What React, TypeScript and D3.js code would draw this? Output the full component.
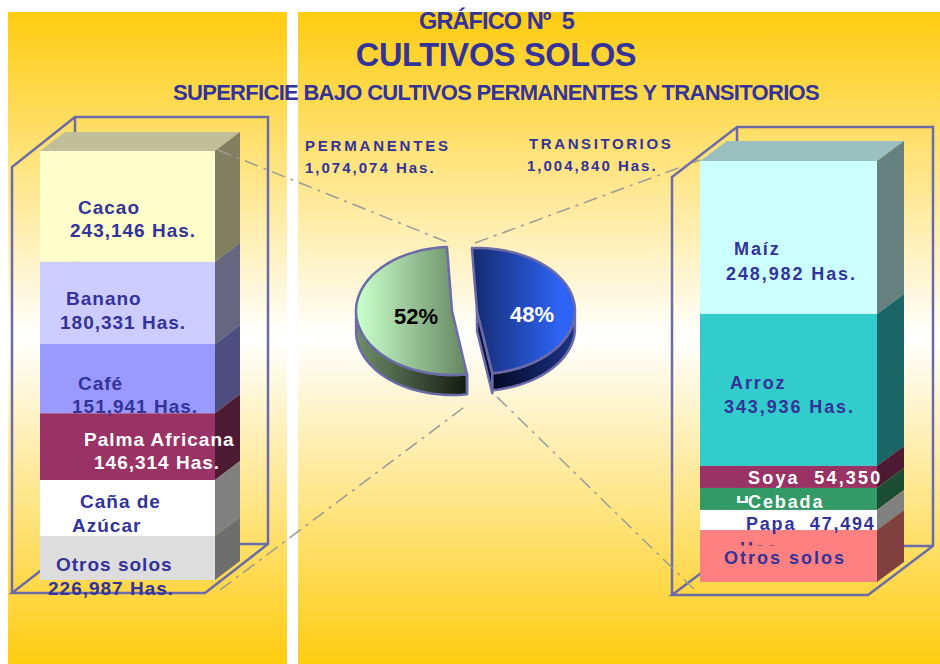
import React from "react";
import * as d3 from "d3";

const permCategories = ["Cacao", "Banano", "Café", "Palma Africana", "Caña de Azúcar", "Otros solos"];
const permBarValues = [243146, 180331, 151941, 146314, 122800, 96500];
const permFront = ["#ffffcc", "#ccccff", "#9999ff", "#993366", "#ffffff", "#dddddd"];
const permSide = ["#808060", "#666680", "#4d4d80", "#4d1a33", "#808080", "#6e6e6e"];

const tranCategories = ["Maíz", "Arroz", "Soya", "Cebada", "Papa", "Otros solos"];
const tranBarValues = [346000, 343936, 49800, 49800, 45300, 117700];
const tranFront = ["#ccffff", "#33cccc", "#993366", "#339966", "#ffffff", "#ff8080"];
const tranSide = ["#668080", "#1a6666", "#4d1a33", "#1a4d33", "#808080", "#804040"];

const pieValues = [1004840, 1074074];
const piePercent = ["48%", "52%"];

type Lab = { lines: { t: string; x: number; y: number }[]; color: string; spacing?: number };
const permLabels: Lab[] = [
  { lines: [{ t: "Cacao", x: 78, y: 214 }, { t: "243,146 Has.", x: 70, y: 237 }], color: "#333399" },
  { lines: [{ t: "Banano", x: 66, y: 305 }, { t: "180,331 Has.", x: 60, y: 329 }], color: "#333399" },
  { lines: [{ t: "Café", x: 78, y: 390 }, { t: "151,941 Has.", x: 72, y: 413 }], color: "#333399" },
  { lines: [{ t: "Palma Africana", x: 84, y: 446 }, { t: "146,314 Has.", x: 94, y: 469 }], color: "#ffffff" },
  { lines: [{ t: "Caña de", x: 80, y: 508 }, { t: "Azúcar", x: 72, y: 532 }], color: "#333399" },
  { lines: [{ t: "Otros solos", x: 56, y: 571 }, { t: "226,987 Has.", x: 48, y: 595 }], color: "#333399" },
];
const tranLabels: Lab[] = [
  { lines: [{ t: "Maíz", x: 734, y: 255 }, { t: "248,982 Has.", x: 726, y: 280 }], color: "#333399", spacing: 1.9 },
  { lines: [{ t: "Arroz", x: 730, y: 389 }, { t: "343,936 Has.", x: 724, y: 413 }], color: "#333399", spacing: 1.9 },
  { lines: [{ t: "Soya  54,350", x: 748, y: 484 }], color: "#ffffff", spacing: 2.2 },
  { lines: [{ t: "Cebada", x: 748, y: 508 }], color: "#ffffff", spacing: 1.9 },
  { lines: [{ t: "Papa  47,494", x: 746, y: 530 }], color: "#333399", spacing: 1.8 },
  { lines: [{ t: "Otros solos", x: 724, y: 564 }], color: "#333399", spacing: 2 },
];

const FONT = "'Liberation Sans', Arial, sans-serif";
const INK = "#333399";
const WIRE = "#6b6ba8";
const LEADER = "#9a9a9a";

function Stack({ values, front, side, x0, x1, yBottom, yTop, dx, dy }: any) {
  const scale = d3.scaleLinear().domain([0, d3.sum(values) as number]).range([yBottom, yTop]);
  const xs = d3.scaleLinear().domain([0, 1]).range([x0, x1]);
  let cum = d3.sum(values) as number;
  const rows = values.map((v: number, i: number) => {
    const top = scale(cum);
    cum -= v;
    return { top, bot: scale(cum), i };
  });
  const yt = scale(d3.sum(values) as number);
  const topColor = front === permFront ? "#bfbf99" : "#99bfbf";
  const line = d3.line();
  return (
    <g>
      <path d={line([[xs(0), yt], [xs(0) + dx, yt - dy], [xs(1) + dx, yt - dy], [xs(1), yt]] as any)! + "Z"} fill={topColor} />
      {rows.map((r: any) => (
        <g key={r.i}>
          <rect x={xs(0)} y={r.top} width={xs(1) - xs(0)} height={r.bot - r.top} fill={front[r.i]} />
          <path d={line([[xs(1), r.top], [xs(1) + dx, r.top - dy], [xs(1) + dx, r.bot - dy], [xs(1), r.bot]] as any)! + "Z"} fill={side[r.i]} />
        </g>
      ))}
    </g>
  );
}

function Wire({ x0, xf, xb, yTopF, yTopB, yBotF, yBotB }: any) {
  const line = d3.line();
  const xBack = x0 + (xb - xf);
  const pts = [
    [[x0, yBotF], [x0, yTopF], [xBack, yTopB], [xb, yTopB], [xb, yBotB], [xf, yBotF], [x0, yBotF], [xBack, yBotB], [xb, yBotB]],
    [[xBack, yTopB], [xBack, yBotB]],
  ];
  return <>{pts.map((p, i) => <path key={i} d={line(p as any)!} fill="none" stroke={WIRE} strokeWidth={2.5} />)}</>;
}

function ellipseArc(cx: number, cy: number, rx: number, ry: number, a0: number, a1: number) {
  const n = 60;
  return d3.range(n + 1).map((i) => {
    const a = a0 + ((a1 - a0) * i) / n;
    return [cx + rx * Math.sin(a), cy - ry * Math.cos(a)] as [number, number];
  });
}

function Pie3D() {
  const tilt = (-3 * Math.PI) / 180;
  const arcs = d3.pie<number>().sort(null).startAngle(tilt).endAngle(tilt + 2 * Math.PI)(pieValues);
  const line = d3.line();
  const depth = 20;
  const R = { cx: 477, cy: 311, rx: 98, ry: 63 };
  const L = { cx: 452, cy: 311, rx: 96, ry: 64 };
  const a = arcs[0];
  const b = arcs[1];
  const rTop = ellipseArc(R.cx, R.cy, R.rx, R.ry, a.startAngle, a.endAngle);
  const lTop = ellipseArc(L.cx, L.cy, L.rx, L.ry, b.startAngle, b.endAngle);
  const rBottomPt = rTop[rTop.length - 1];
  const lBottomPt = lTop[0];
  const rWallRim = rTop.filter((p, i) => a.startAngle + ((a.endAngle - a.startAngle) * i) / 60 >= Math.PI / 2);
  const lWallRim = lTop.filter((p, i) => b.startAngle + ((b.endAngle - b.startAngle) * i) / 60 <= (3 * Math.PI) / 2);
  const wall = (rim: [number, number][], d: number) =>
    line([...rim, ...rim.slice().reverse().map((p) => [p[0], p[1] + d] as [number, number])])! + "Z";
  const slice = (c: any, rim: [number, number][]) => line([[c.cx, c.cy], ...rim])! + "Z";
  return (
    <g stroke={WIRE} strokeWidth={2.5} strokeLinejoin="round">
      <path d={wall(lWallRim, depth)} fill="url(#lSide)" />
      <path d={slice(L, lTop)} fill="url(#lTop)" />
      <path
        d={line([[R.cx, R.cy], [R.cx, R.cy + depth], [rBottomPt[0], rBottomPt[1] + depth], rBottomPt])! + "Z"}
        fill="#0a1440"
      />
      <path d={wall(rWallRim, depth - 3)} fill="url(#rSide)" />
      <path d={slice(R, rTop)} fill="url(#rTop)" />
      <path d={line([[lBottomPt[0], lBottomPt[1]], [lBottomPt[0], lBottomPt[1] + depth]])!} fill="none" />
      <text x={416} y={324} fontFamily={FONT} fontWeight={700} fontSize={22} fill="#000" stroke="none" textAnchor="middle">{piePercent[1]}</text>
      <text x={532} y={322} fontFamily={FONT} fontWeight={700} fontSize={22} fill="#fff" stroke="none" textAnchor="middle">{piePercent[0]}</text>
    </g>
  );
}

function Labels({ items, size }: { items: Lab[]; size: number }) {
  return (
    <g fontFamily={FONT} fontWeight={700} fontSize={size}>
      {items.map((l, i) =>
        l.lines.map((s, j) => (
          <text key={`${i}-${j}`} x={s.x} y={s.y} fill={l.color} letterSpacing={l.spacing ?? 1} style={{ whiteSpace: "pre" }}>
            {s.t}
          </text>
        ))
      )}
    </g>
  );
}

export default function App() {
  const dash = "14 6 3 6";
  const leaders = [
    [[218, 150], [447, 242]],
    [[220, 590], [467, 405]],
    [[475, 243], [700, 160]],
    [[497, 397], [698, 593]],
  ];
  const line = d3.line();
  return (
    <svg width={940} height={664} style={{ position: "absolute", left: 0, top: 0, background: "#fff" }}>
      <defs>
        <linearGradient id="bg" x1="0" y1="0" x2="0" y2="1">
          <stop offset="0" stopColor="#ffcc10" />
          <stop offset="0.5" stopColor="#ffffff" />
          <stop offset="1" stopColor="#ffcc10" />
        </linearGradient>
        <linearGradient id="lTop" x1="0" y1="0" x2="1" y2="0">
          <stop offset="0.05" stopColor="#c6fcc8" />
          <stop offset="1" stopColor="#65855f" />
        </linearGradient>
        <linearGradient id="lSide" x1="0" y1="0" x2="1" y2="0">
          <stop offset="0" stopColor="#6f8f6b" />
          <stop offset="1" stopColor="#141a10" />
        </linearGradient>
        <linearGradient id="rTop" x1="0" y1="0" x2="1" y2="0">
          <stop offset="0" stopColor="#142a6e" />
          <stop offset="0.85" stopColor="#2e63f5" />
        </linearGradient>
        <linearGradient id="rSide" x1="0" y1="0" x2="1" y2="0">
          <stop offset="0" stopColor="#030a25" />
          <stop offset="1" stopColor="#1c3388" />
        </linearGradient>
        <clipPath id="clipHas"><rect x={730} y={540} width={60} height={5.5} /></clipPath>
        <clipPath id="clipH"><rect x={730} y={494} width={30} height={9} /></clipPath>
      </defs>
      <rect x={8} y={12} width={279} height={652} fill="url(#bg)" />
      <rect x={298} y={12} width={642} height={652} fill="url(#bg)" />

      <Wire x0={12} xf={205} xb={268} yTopF={167} yTopB={117} yBotF={593} yBotB={544} />
      <Wire x0={672} xf={868} xb={933} yTopF={177} yTopB={127} yBotF={595} yBotB={546} />

      <Stack values={permBarValues} front={permFront} side={permSide} x0={40} x1={215} yBottom={580} yTop={151} dx={25} dy={19} />
      <Stack values={tranBarValues} front={tranFront} side={tranSide} x0={700} x1={877} yBottom={582} yTop={161} dx={27} dy={20} />

      <Labels items={permLabels} size={19} />
      <Labels items={tranLabels} size={18} />
      <g fontFamily={FONT} fontWeight={700} fontSize={18}>
        <text x={740} y={555} fill={INK} letterSpacing={2} clipPath="url(#clipHas)">Has.</text>
        <text x={736} y={509} fill="#fff" clipPath="url(#clipH)">H</text>
      </g>

      <g fill="none" stroke={LEADER} strokeWidth={1.5} strokeDasharray={dash}>
        {leaders.map((p, i) => <path key={i} d={line(p as any)!} />)}
      </g>

      <Pie3D />

      <g fontFamily={FONT} fontWeight={700} fill={INK}>
        <text x={496.5} y={29} fontSize={23.5} textAnchor="middle" letterSpacing={-0.9} style={{ whiteSpace: "pre" }}>GRÁFICO Nº  5</text>
        <text x={496} y={66} fontSize={32.5} textAnchor="middle" letterSpacing={-0.3}>CULTIVOS SOLOS</text>
        <text x={496} y={100} fontSize={22} textAnchor="middle" letterSpacing={-0.7}>SUPERFICIE BAJO CULTIVOS PERMANENTES Y TRANSITORIOS</text>
        <text x={305} y={151} fontSize={15} letterSpacing={2.8}>PERMANENTES</text>
        <text x={305} y={173} fontSize={15} letterSpacing={2}>1,074,074 Has.</text>
        <text x={529} y={149} fontSize={15} letterSpacing={2.6}>TRANSITORIOS</text>
        <text x={527} y={171} fontSize={15} letterSpacing={2}>1,004,840 Has.</text>
      </g>
    </svg>
  );
}
